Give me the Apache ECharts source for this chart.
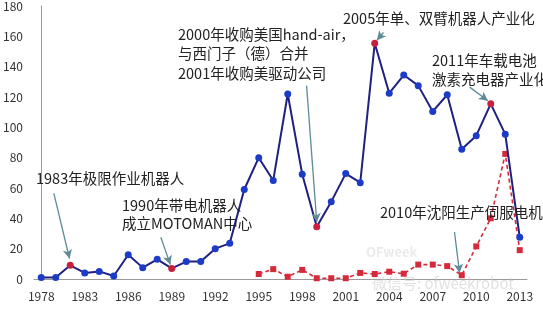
<!DOCTYPE html>
<html>
<head>
<meta charset="utf-8">
<script src="https://cdn.jsdelivr.net/npm/echarts@6/dist/echarts.min.js"></script>
<style>
html,body{margin:0;padding:0;background:#fff;}
#c{width:543px;height:309px;}
</style>
</head>
<body>
<div id="c"></div>
<script>
// categories (index 3k labelled as in the picture)
var categories = ['1978','1981','1982','1983','1984','1985','1986','1987','1988','1989',
  '1990','1991','1992','1993','1994','1995','1996','1997','1998','1999',
  '2000','2001','2002','2003','2004','2005','2006','2007','2008','2009',
  '2010','2011','2012','2013'];
var blueValues = [1,1,9,4,5,2,16,7.5,13,7,
  11.5,11.5,20,23.5,59,80,65,122,69,34.5,
  51,69.5,63.5,155.5,122.5,134.5,127.5,110.5,121.5,85.5,
  94.5,115.5,95.5,27.5];
var highlightIdx = [2,9,19,23,31];
var redValues = ['-','-','-','-','-','-','-','-','-','-',
  '-','-','-','-','-',3.3,6.5,1.5,6,0.5,
  0.5,0.5,4,3.3,4.8,3.5,9.5,9.5,8.5,2.5,
  21.5,40,82.5,19];
var yTicks = {min:0, max:180, interval:20};

// annotation arrows in data space: [xIndexFrom, yFrom, xIndexTo, yTo]
var arrows = [
  [0.87, 56.5, 1.95, 13.5],
  [8.25, 27.5, 8.9, 9.5],
  [18.3, 127.5, 19.0, 37.5],
  [23.6, 162.5, 23.15, 157.5],
  [29.55, 126.5, 30.8, 117.5],
  [28.5, 31, 28.85, 4]
];
var notes = [
  {t:'1983年极限作业机器人', x:36, y:181},
  {t:'1990年带电机器人', x:122, y:208},
  {t:'成立MOTOMAN中心', x:122, y:226},
  {t:'2000年收购美国hand-air，', x:178, y:37},
  {t:'与西门子（德）合并', x:178, y:56},
  {t:'2001年收购美驱动公司', x:178, y:76},
  {t:'2005年单、双臂机器人产业化', x:343, y:21},
  {t:'2011年车载电池', x:432, y:63},
  {t:'激素充电器产业化', x:432, y:82},
  {t:'2010年沈阳生产伺服电机', x:380, y:215}
];

var chart = echarts.init(document.getElementById('c'));
var FONT = '"Noto Sans CJK SC", "Noto Sans", sans-serif';

var blueData = blueValues.map(function(v,i){
  if (highlightIdx.indexOf(i) >= 0) return {value:v, itemStyle:{color:'#c8203c'}};
  return v;
});

var arrowLines = arrows.map(function(a){
  return [{coord:[a[0],a[1]]},{coord:[a[2],a[3]]}];
});

var graphics = notes.map(function(n){
  return {type:'text', left:n.x, top:n.y-10, z:100,
    style:{text:n.t, fill:'#222', font:'14.5px ' + FONT}};
});
graphics.push({type:'text', left:372, top:276, z:1,
  style:{text:'微信号: ofweekrobot', fill:'rgba(200,200,200,0.55)', font:'15px ' + FONT}});
graphics.push({type:'text', left:366, top:246, z:1,
  style:{text:'OFweek', fill:'rgba(215,215,215,0.5)', font:'bold 13px ' + FONT}});

chart.setOption({
  animation:false,
  backgroundColor:'#fff',
  grid:{left:33, right:16, top:5, bottom:30, containLabel:false},
  xAxis:[{
    type:'category', data:categories, boundaryGap:true,
    axisLine:{lineStyle:{color:'#9a9a9a', width:1}},
    axisTick:{show:false},
    axisLabel:{interval:2, color:'#333', fontSize:12, fontFamily:FONT, margin:11}
  },{
    type:'value', min:-0.5, max:categories.length-0.5, show:false
  }],
  yAxis:{
    type:'value', min:yTicks.min, max:yTicks.max, interval:yTicks.interval,
    axisLine:{show:true, lineStyle:{color:'#9a9a9a', width:1}},
    axisTick:{show:false},
    splitLine:{show:false},
    axisLabel:{color:'#333', fontSize:12, fontFamily:FONT, margin:11}
  },
  graphic:graphics,
  series:[{
    type:'line', data:redValues, xAxisIndex:0,
    symbol:'rect', symbolSize:6, showAllSymbol:true,
    lineStyle:{color:'#d42a3a', width:1.6, type:[4,3]},
    itemStyle:{color:'#d42a3a'}, z:2
  },{
    type:'line', data:blueData, xAxisIndex:0,
    symbol:'circle', symbolSize:7, showAllSymbol:true,
    lineStyle:{color:'#202080', width:2},
    itemStyle:{color:'#1c3cc8'}, z:3
  },{
    type:'line', xAxisIndex:1, data:[], z:4,
    markLine:{
      silent:true, symbol:['none','arrow'], symbolSize:[7,9],
      label:{show:false},
      lineStyle:{color:'#5f8b96', width:1.3, type:'solid'},
      data:arrowLines
    }
  }]
});
</script>
</body>
</html>
